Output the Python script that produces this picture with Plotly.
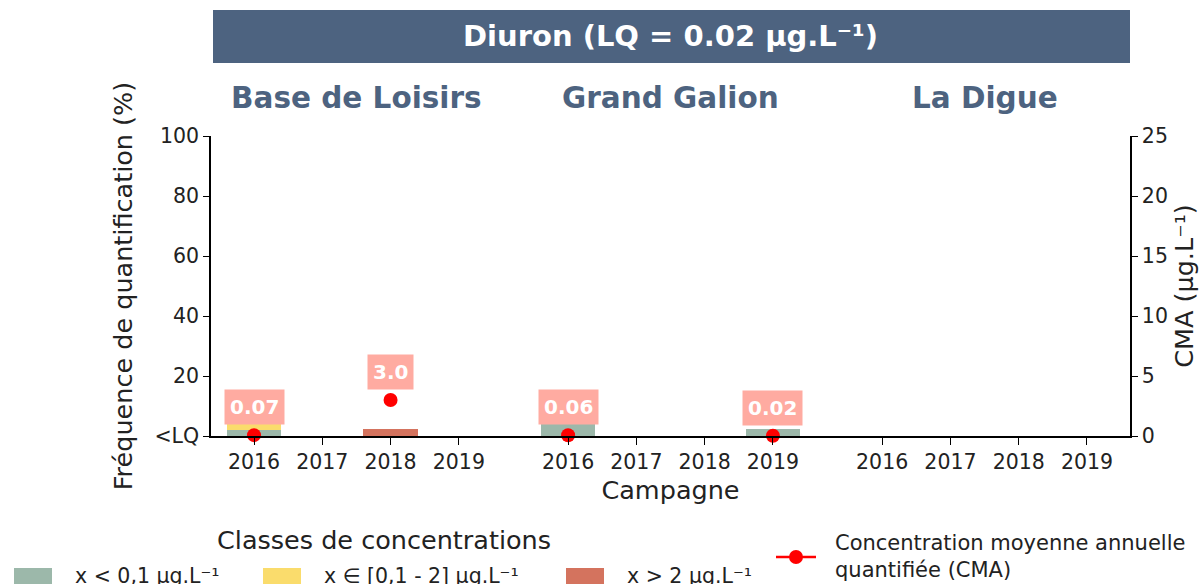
import plotly.graph_objects as go

# Stations and sampling campaigns
stations = ["Base de Loisirs", "Grand Galion", "La Digue"]
years = ["2016", "2017", "2018", "2019"]

# Quantification frequency (%) per concentration class, per station/year
freq_low = [[2.1, 0, 0, 0], [4.4, 0, 0, 2.2], [0, 0, 0, 0]]      # x < 0,1
freq_mid = [[2.4, 0, 0, 0], [0, 0, 0, 0], [0, 0, 0, 0]]          # x in [0,1 - 2]
freq_high = [[0, 0, 2.5, 0], [0, 0, 0, 0], [0, 0, 0, 0]]         # x > 2

# Annual mean quantified concentration (µg/L); None = not quantified
cma = [[0.07, None, 3.0, None], [0.06, None, None, 0.02], [None, None, None, None]]

GROUP_STEP = 4.6
BAR_W = 0.8
COL_LOW = "#9cb8aa"
COL_MID = "#fadc6c"
COL_HIGH = "#d4735e"
TITLE_BLUE = "#4d6380"
FONT = "DejaVu Sans"
TICK_SIZE = 20.5
AXIS_TITLE_SIZE = 25.5

W, H = 1201, 584
ML, MR, MT, MB = 211, 71, 136, 148
PW, PH = W - ML - MR, H - MT - MB


def px(x):
    return (x - ML) / PW


def py(y):
    return (H - MB - y) / PH


xs, lows, mids, highs, tick_text = [], [], [], [], []
cx, cy, clab = [], [], []
for g, st in enumerate(stations):
    for i, yr in enumerate(years):
        x = g * GROUP_STEP + i
        xs.append(x)
        tick_text.append(yr)
        lows.append(freq_low[g][i])
        mids.append(freq_mid[g][i])
        highs.append(freq_high[g][i])
        if cma[g][i] is not None:
            cx.append(x)
            cy.append(cma[g][i])
            clab.append(f"{cma[g][i]:.2f}" if cma[g][i] < 1 else f"{cma[g][i]:.1f}")

fig = go.Figure()
for vals, col, name in [(lows, COL_LOW, "low"), (mids, COL_MID, "mid"), (highs, COL_HIGH, "high")]:
    fig.add_trace(go.Bar(x=xs, y=vals, width=BAR_W, marker=dict(color=col, line=dict(width=0)),
                         name=name, showlegend=False, yaxis="y"))

fig.add_trace(go.Scatter(x=cx, y=cy, mode="markers", yaxis="y2", showlegend=False,
                         marker=dict(color="#ff0000", size=14, line=dict(width=0)),
                         cliponaxis=False))

annotations = []
for x, y, t in zip(cx, cy, clab):
    annotations.append(dict(x=x, y=y, xref="x", yref="y2", yshift=28, text=f"<b>{t}</b>",
                            showarrow=False, bgcolor="#ffaba1", borderpad=5,
                            xanchor="center", yanchor="middle",
                            font=dict(family=FONT, size=20, color="white")))

# Station titles above each group
for g, st in enumerate(stations):
    annotations.append(dict(x=g * GROUP_STEP + 1.5, y=py(98), xref="x", yref="paper",
                            xanchor="center", yanchor="middle",
                            text=f"<b>{st}</b>", showarrow=False,
                            font=dict(family=FONT, size=29.5, color=TITLE_BLUE)))

# Header banner text
annotations.append(dict(x=px(670), y=py(36), xref="paper", yref="paper",
                        xanchor="center", yanchor="middle",
                        text="<b>Diuron (LQ = 0.02 µg.L⁻¹)</b>", showarrow=False,
                        font=dict(family=FONT, size=29, color="white")))

# Legend
annotations.append(dict(x=px(384), y=py(540), xref="paper", yref="paper",
                        xanchor="center", yanchor="middle",
                        text="Classes de concentrations", showarrow=False,
                        font=dict(family=FONT, size=25.5, color="#222")))
legend_items = [(14, COL_LOW, "x < 0,1 µg.L⁻¹"), (263, COL_MID, "x ∈ [0,1 - 2] µg.L⁻¹"),
                (566, COL_HIGH, "x > 2 µg.L⁻¹")]
shapes = [dict(type="rect", xref="paper", yref="paper", x0=px(213), x1=px(1130),
               y0=py(63), y1=py(10), fillcolor=TITLE_BLUE, line=dict(width=0), layer="below")]
for x0, col, txt in legend_items:
    shapes.append(dict(type="rect", xref="paper", yref="paper", x0=px(x0), x1=px(x0 + 38),
                       y0=py(586), y1=py(568), fillcolor=col, line=dict(width=0)))
    annotations.append(dict(x=px(x0 + 59), y=py(576), xref="paper", yref="paper",
                            xanchor="left", yanchor="middle",
                            text=txt, showarrow=False,
                            font=dict(family=FONT, size=20.5, color="#222")))
shapes.append(dict(type="line", xref="paper", yref="paper", x0=px(776), x1=px(816),
                   y0=py(557), y1=py(557), line=dict(color="#ff0000", width=2.5)))
shapes.append(dict(type="circle", xref="paper", yref="paper", x0=px(789), x1=px(803),
                   y0=py(564), y1=py(550), fillcolor="#ff0000", line=dict(width=0)))
annotations.append(dict(x=px(833), y=py(556), xref="paper", yref="paper",
                        xanchor="left", yanchor="middle",
                        align="left", text="Concentration moyenne annuelle<br>quantifiée (CMA)",
                        showarrow=False, font=dict(family=FONT, size=21, color="#222")))

fig.update_layout(
    width=W, height=H, margin=dict(l=ML, r=MR, t=MT, b=MB, autoexpand=False),
    paper_bgcolor="white", plot_bgcolor="white", barmode="stack", bargap=0,
    font=dict(family=FONT, size=TICK_SIZE, color="#222"),
    xaxis=dict(range=[-0.63, 2 * GROUP_STEP + 3 + 0.63], tickvals=xs, ticktext=tick_text,
               showline=True, linecolor="black", linewidth=1.5, ticks="outside", ticklen=7,
               tickcolor="black", showgrid=False, zeroline=False, automargin=False,
               title=dict(text="Campagne", font=dict(size=AXIS_TITLE_SIZE), standoff=8),
               tickfont=dict(size=TICK_SIZE)),
    yaxis=dict(range=[0, 100], tickvals=[0, 20, 40, 60, 80, 100],
               ticktext=["<LQ", "20", "40", "60", "80", "100"],
               showline=True, linecolor="black", linewidth=1.5, ticks="outside", ticklen=6,
               tickcolor="black", showgrid=False, zeroline=False, automargin=False,
               title=dict(text="Fréquence de quantification (%)",
                          font=dict(size=AXIS_TITLE_SIZE), standoff=14),
               tickfont=dict(size=TICK_SIZE)),
    yaxis2=dict(range=[0, 25], overlaying="y", side="right", tickvals=[0, 5, 10, 15, 20, 25],
                showline=True, linecolor="black", linewidth=1.5, ticks="outside", ticklen=6,
                tickcolor="black", showgrid=False, zeroline=False, automargin=False,
                title=dict(text="CMA (µg.L⁻¹)", font=dict(size=AXIS_TITLE_SIZE), standoff=8),
                tickfont=dict(size=TICK_SIZE)),
    annotations=annotations, shapes=shapes, showlegend=False,
)

fig.write_html("out.html")
